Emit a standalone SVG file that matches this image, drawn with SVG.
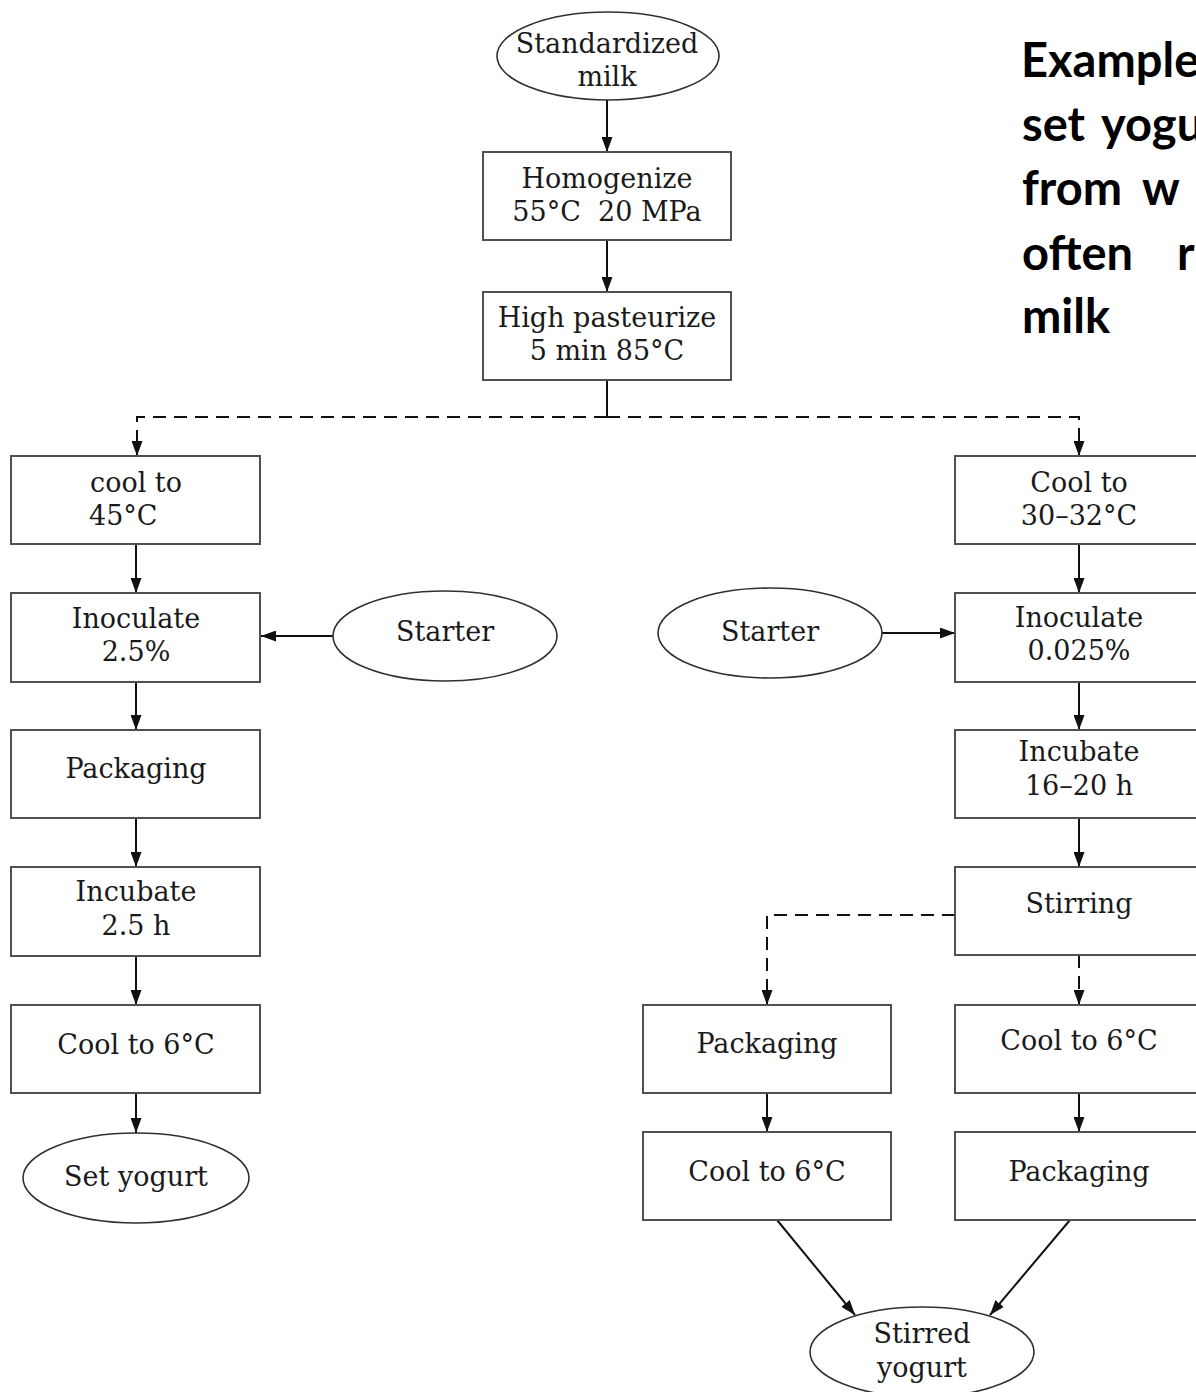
<svg xmlns="http://www.w3.org/2000/svg" width="1196" height="1392" viewBox="0 0 1196 1392">
<style>
.box{fill:#fff;stroke:#505050;stroke-width:2}
.ell{fill:#fff;stroke:#303030;stroke-width:1.6}
.t{font-family:"DejaVu Serif","Liberation Serif",serif;font-size:27px;fill:#1a1a1a;text-anchor:middle}
.ts{font-family:"DejaVu Serif","Liberation Serif",serif;font-size:27px;fill:#1a1a1a}
.c{fill:none;stroke:#111;stroke-width:2}
.d{fill:none;stroke:#111;stroke-width:2;stroke-dasharray:13 8}
.h{font-family:Lato,"Open Sans","Liberation Sans",sans-serif;font-weight:bold;font-size:47px;fill:#000}
</style>
<defs>
<marker id="ah" markerUnits="userSpaceOnUse" markerWidth="15" markerHeight="11" refX="15" refY="5.5" orient="auto">
<path d="M0,0 L15,5.5 L0,11 z" fill="#111"/>
</marker>
</defs>
<rect width="1196" height="1392" fill="#fff"/>
<g id="title">
<text class="h" x="1021" y="77">Example</text>
<text class="h" x="1022" y="141">set</text><text class="h" x="1101" y="141">yogurt</text>
<text class="h" x="1022" y="205">from</text><text class="h" x="1142" y="205">w</text>
<text class="h" x="1022" y="270">often</text><text class="h" x="1177" y="270">r</text>
<text class="h" x="1022" y="333">milk</text>
</g>
<g id="connectors">
<path class="c" d="M607,100 V152" marker-end="url(#ah)"/>
<path class="c" d="M607,240 V292" marker-end="url(#ah)"/>
<path class="c" d="M607,380 V417"/>
<path class="d" d="M607,417 H137 V456" marker-end="url(#ah)"/>
<path class="d" d="M607,417 H1079 V456" marker-end="url(#ah)"/>
<path class="c" d="M136,544 V593" marker-end="url(#ah)"/>
<path class="c" d="M136,682 V730" marker-end="url(#ah)"/>
<path class="c" d="M136,818 V867" marker-end="url(#ah)"/>
<path class="c" d="M136,956 V1005" marker-end="url(#ah)"/>
<path class="c" d="M136,1093 V1133" marker-end="url(#ah)"/>
<path class="c" d="M333,636 H261" marker-end="url(#ah)"/>
<path class="c" d="M882,633 H955" marker-end="url(#ah)"/>
<path class="c" d="M1079,544 V593" marker-end="url(#ah)"/>
<path class="c" d="M1079,682 V730" marker-end="url(#ah)"/>
<path class="c" d="M1079,818 V867" marker-end="url(#ah)"/>
<path class="d" d="M955,915 H767 V1005" marker-end="url(#ah)"/>
<path class="d" d="M1079,955 V1005" marker-end="url(#ah)"/>
<path class="c" d="M767,1093 V1132" marker-end="url(#ah)"/>
<path class="c" d="M1079,1093 V1132" marker-end="url(#ah)"/>
<path class="c" d="M777,1220 L855,1315" marker-end="url(#ah)"/>
<path class="c" d="M1070,1220 L990,1315" marker-end="url(#ah)"/>
</g>
<g id="n-milk"><ellipse class="ell" cx="608" cy="56" rx="111" ry="44"/><text class="t" x="607" y="53">Standardized</text><text class="t" x="607" y="86">milk</text></g>
<g id="n-homog"><rect class="box" x="483" y="152" width="248" height="88"/><text class="t" x="607" y="188">Homogenize</text><text class="t" x="607" y="221">55°C&#160; 20 MPa</text></g>
<g id="n-past"><rect class="box" x="483" y="292" width="248" height="88"/><text class="t" x="607" y="327">High pasteurize</text><text class="t" x="607" y="360">5 min 85°C</text></g>
<g id="n-cool45"><rect class="box" x="11" y="456" width="249" height="88"/><text class="t" x="136" y="492">cool to</text><text class="ts" x="89" y="525">45°C</text></g>
<g id="n-inoc1"><rect class="box" x="11" y="593" width="249" height="89"/><text class="t" x="136" y="628">Inoculate</text><text class="t" x="136" y="661">2.5%</text></g>
<g id="n-starter1"><ellipse class="ell" cx="445" cy="636" rx="112" ry="45"/><text class="t" x="445" y="641">Starter</text></g>
<g id="n-pack1"><rect class="box" x="11" y="730" width="249" height="88"/><text class="t" x="136" y="778">Packaging</text></g>
<g id="n-incub1"><rect class="box" x="11" y="867" width="249" height="89"/><text class="t" x="136" y="901">Incubate</text><text class="t" x="136" y="935">2.5 h</text></g>
<g id="n-cool6a"><rect class="box" x="11" y="1005" width="249" height="88"/><text class="t" x="136" y="1054">Cool to 6°C</text></g>
<g id="n-set"><ellipse class="ell" cx="136" cy="1178" rx="113" ry="45"/><text class="t" x="136" y="1186">Set yogurt</text></g>
<g id="n-cool30"><rect class="box" x="955" y="456" width="249" height="88"/><text class="t" x="1079" y="492">Cool to</text><text class="t" x="1079" y="525">30–32°C</text></g>
<g id="n-starter2"><ellipse class="ell" cx="770" cy="633" rx="112" ry="45"/><text class="t" x="770" y="641">Starter</text></g>
<g id="n-inoc2"><rect class="box" x="955" y="593" width="249" height="89"/><text class="t" x="1079" y="627">Inoculate</text><text class="t" x="1079" y="660">0.025%</text></g>
<g id="n-incub2"><rect class="box" x="955" y="730" width="249" height="88"/><text class="t" x="1079" y="761">Incubate</text><text class="t" x="1079" y="795">16–20 h</text></g>
<g id="n-stir"><rect class="box" x="955" y="867" width="249" height="88"/><text class="t" x="1079" y="913">Stirring</text></g>
<g id="n-cool6b"><rect class="box" x="955" y="1005" width="249" height="88"/><text class="t" x="1079" y="1050">Cool to 6°C</text></g>
<g id="n-pack3"><rect class="box" x="955" y="1132" width="249" height="88"/><text class="t" x="1079" y="1181">Packaging</text></g>
<g id="n-pack2"><rect class="box" x="643" y="1005" width="248" height="88"/><text class="t" x="767" y="1053">Packaging</text></g>
<g id="n-cool6c"><rect class="box" x="643" y="1132" width="248" height="88"/><text class="t" x="767" y="1181">Cool to 6°C</text></g>
<g id="n-stirred"><ellipse class="ell" cx="922" cy="1352" rx="112" ry="45"/><text class="t" x="922" y="1343">Stirred</text><text class="t" x="922" y="1377">yogurt</text></g>
</svg>
